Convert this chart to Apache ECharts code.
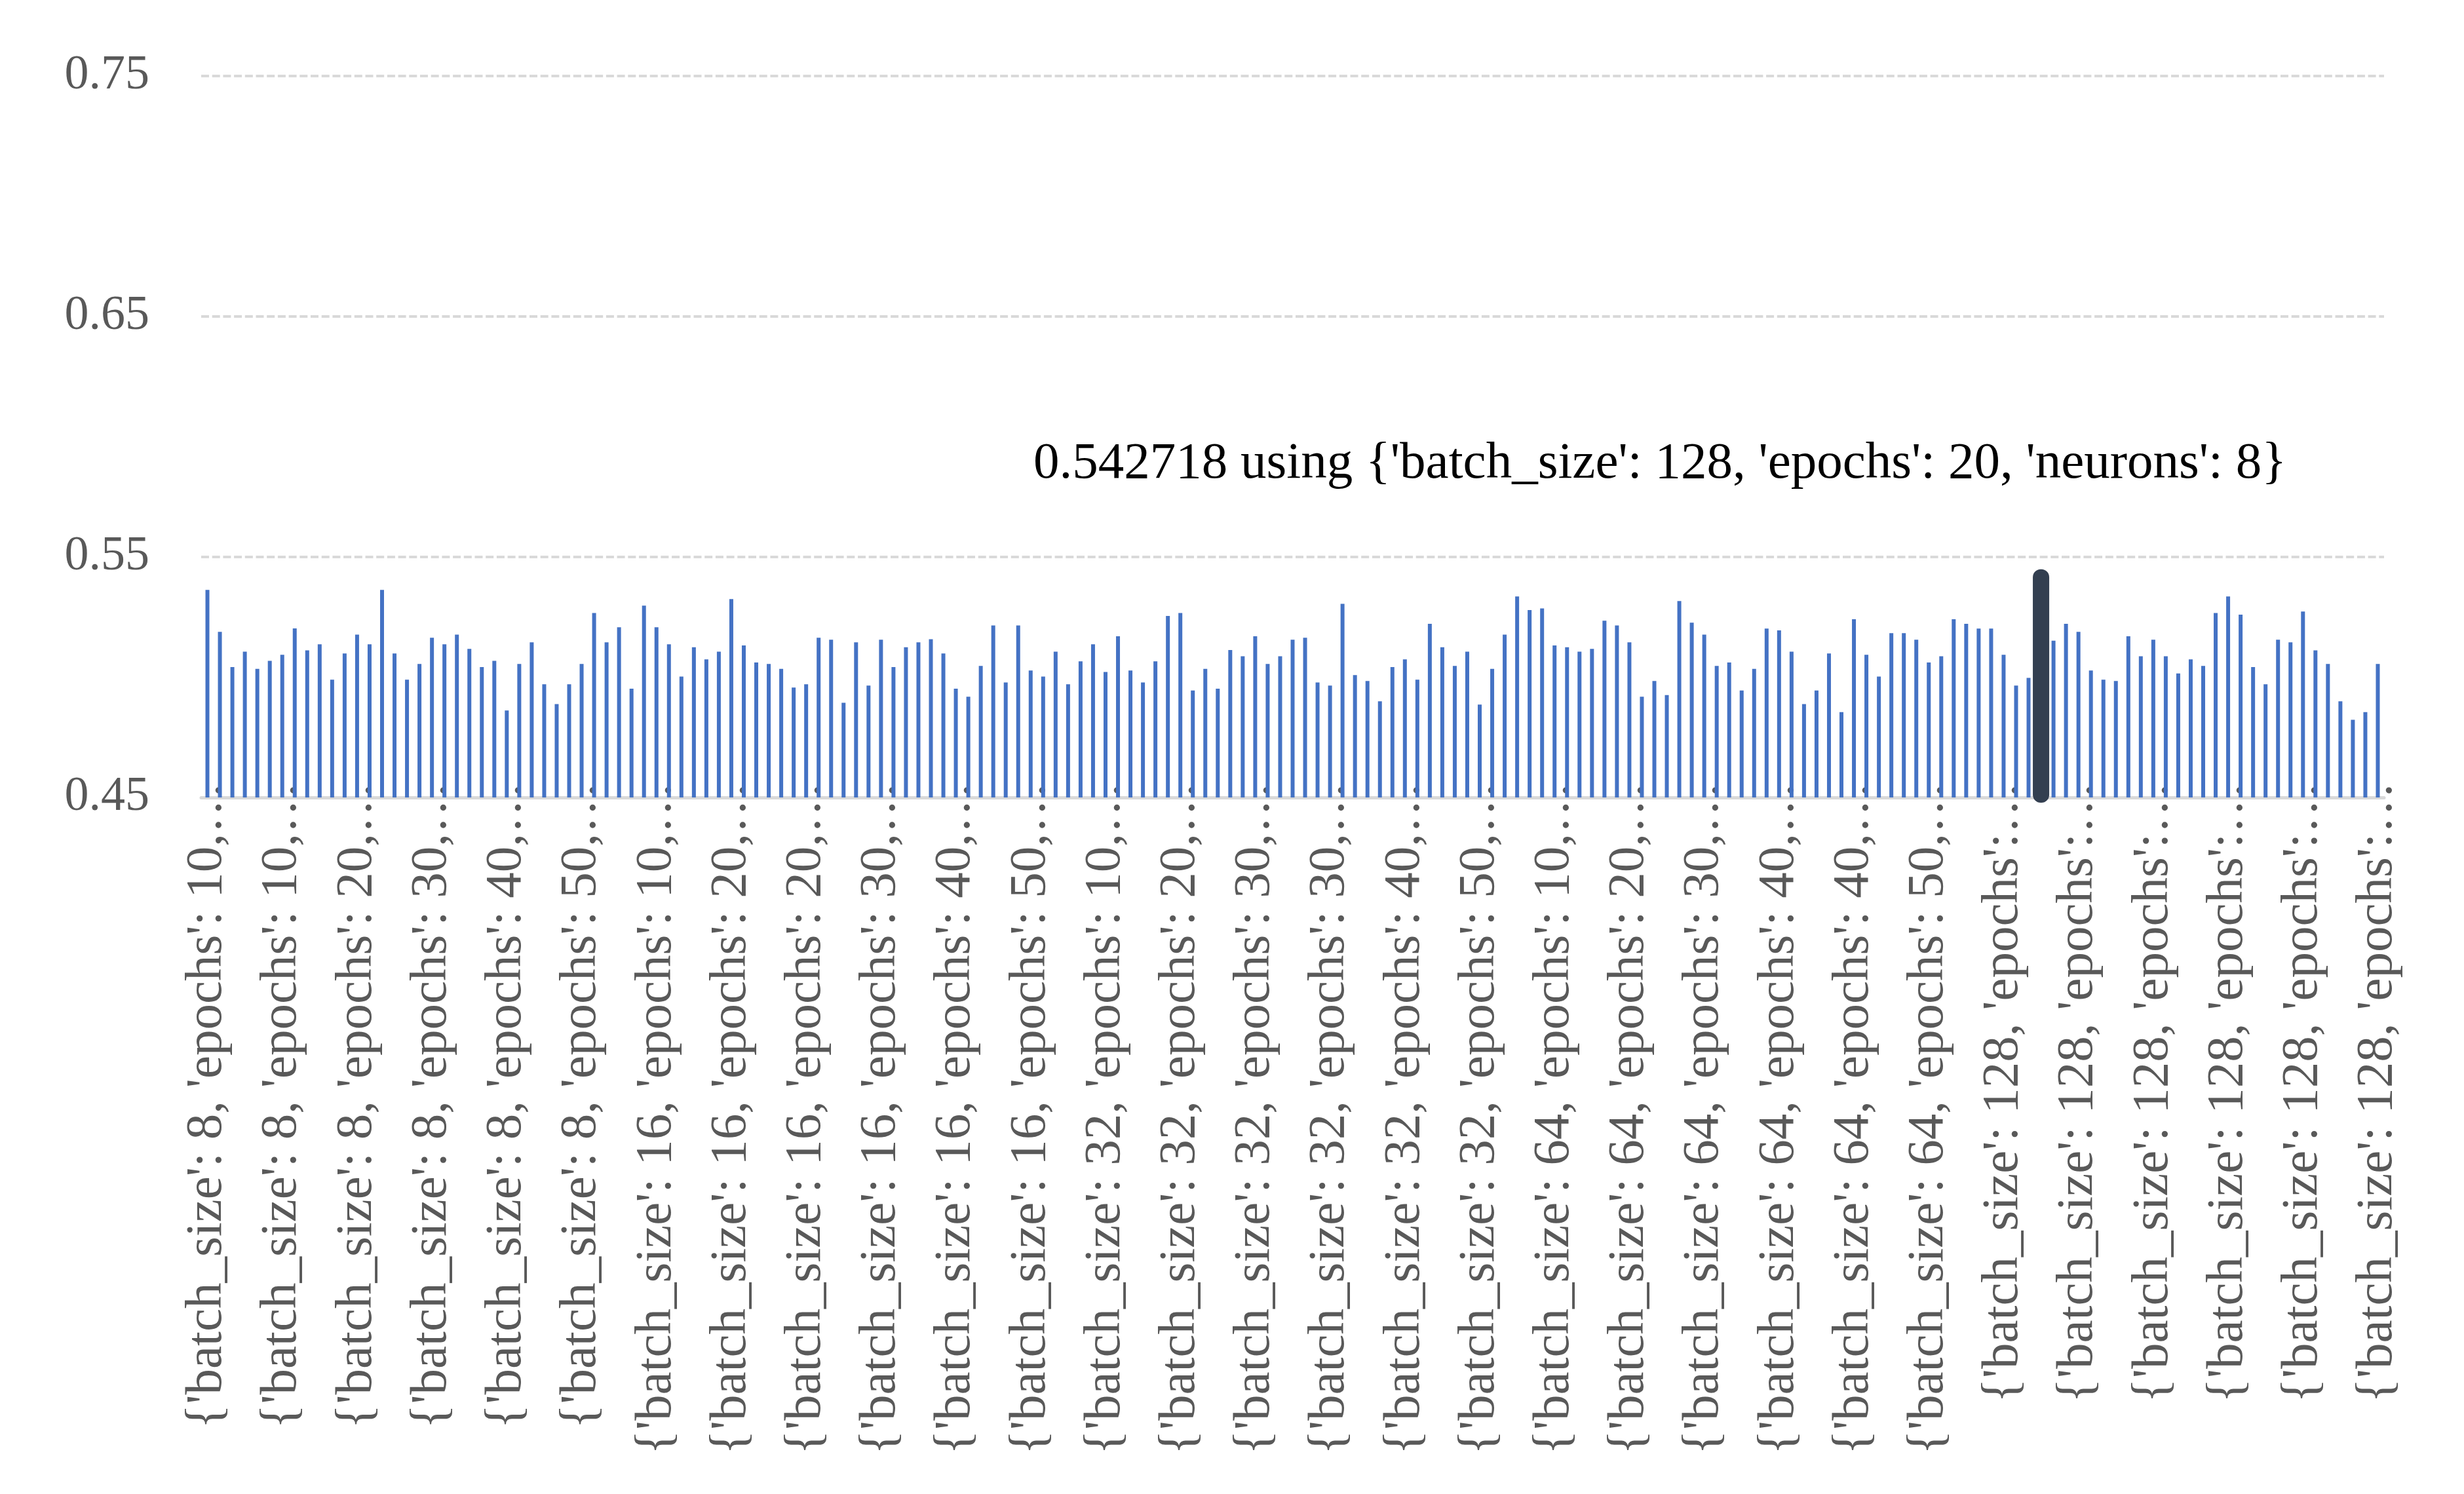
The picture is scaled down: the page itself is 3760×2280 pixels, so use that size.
<!DOCTYPE html>
<html>
<head>
<meta charset="utf-8">
<script src="https://cdn.jsdelivr.net/npm/echarts@6/dist/echarts.min.js"></script>
<style>
html,body{margin:0;padding:0;background:#fff;}
#c{width:3760px;height:2280px;}
</style>
</head>
<body>
<div id="c"></div>
<script>
const batchSizes = [8, 16, 32, 64, 128];
const epochsList = [10, 20, 30, 40, 50];
const neuronsList = [8, 16, 32, 64, 128, 256, 512];
const yTicks = [0.45, 0.55, 0.65, 0.75];

const scores = [
  0.5363, 0.5189, 0.5042, 0.5106, 0.5035, 0.5068, 0.5093,
  0.5203, 0.5112, 0.5137, 0.4990, 0.5099, 0.5177, 0.5137,
  0.5363, 0.5099, 0.4990, 0.5055, 0.5164, 0.5137, 0.5177,
  0.5118, 0.5042, 0.5068, 0.4862, 0.5055, 0.5145, 0.4971,
  0.4888, 0.4971, 0.5055, 0.5267, 0.5145, 0.5208, 0.4952,
  0.5298, 0.5208, 0.5137, 0.5003, 0.5125, 0.5074, 0.5106,
  0.5325, 0.5132, 0.5061, 0.5055, 0.5035, 0.4957, 0.4971,
  0.5164, 0.5156, 0.4894, 0.5145, 0.4965, 0.5156, 0.5042,
  0.5125, 0.5145, 0.5158, 0.5099, 0.4952, 0.4919, 0.5047,
  0.5215, 0.4978, 0.5215, 0.5028, 0.5003, 0.5106, 0.4971,
  0.5066, 0.5137, 0.5022, 0.5170, 0.5028, 0.4978, 0.5066,
  0.5255, 0.5267, 0.4945, 0.5035, 0.4952, 0.5113, 0.5087,
  0.5170, 0.5055, 0.5087, 0.5156, 0.5164, 0.4978, 0.4965,
  0.5305, 0.5009, 0.4984, 0.4900, 0.5042, 0.5074, 0.4990,
  0.5222, 0.5125, 0.5047, 0.5106, 0.4886, 0.5035, 0.5177,
  0.5336, 0.5279, 0.5286, 0.5132, 0.5125, 0.5106, 0.5118,
  0.5235, 0.5215, 0.5145, 0.4919, 0.4984, 0.4926, 0.5317,
  0.5227, 0.5177, 0.5047, 0.5061, 0.4945, 0.5035, 0.5202,
  0.5195, 0.5106, 0.4888, 0.4945, 0.5099, 0.4855, 0.5241,
  0.5093, 0.5003, 0.5183, 0.5183, 0.5156, 0.5061, 0.5087,
  0.5241, 0.5222, 0.5202, 0.5202, 0.5093, 0.4965, 0.4997,
  0.542718, 0.5152, 0.5222, 0.5189, 0.5028, 0.4990, 0.4984,
  0.5170, 0.5087, 0.5156, 0.5087, 0.5016, 0.5074, 0.5047,
  0.5267, 0.5336, 0.5260, 0.5042, 0.4971, 0.5156, 0.5145,
  0.5273, 0.5112, 0.5055, 0.4900, 0.4823, 0.4855, 0.5055
];

const categories = [];
batchSizes.forEach(b => epochsList.forEach(e => neuronsList.forEach(n => {
  categories.push("{'batch_size': " + b + ", 'epochs': " + e + ", 'neurons': " + n + "}");
})));

let bestIdx = 0;
scores.forEach((v, i) => { if (v > scores[bestIdx]) bestIdx = i; });
const bestText = scores[bestIdx].toFixed(6) + ' using ' + categories[bestIdx];

const FONT = "'Liberation Serif', 'DejaVu Serif', serif";
const LABEL_SIZE = 79;
const LABEL_WIDTH = 13.25 * LABEL_SIZE;

const measureCtx = document.createElement('canvas').getContext('2d');
measureCtx.font = LABEL_SIZE + 'px ' + FONT;
function fitLabel(text) {
  if (measureCtx.measureText(text).width <= LABEL_WIDTH) return text;
  const tokens = text.split(' ');
  let out = '';
  for (const t of tokens) {
    const cand = out ? out + ' ' + t : t;
    if (measureCtx.measureText(cand + '\u2026').width > LABEL_WIDTH) break;
    out = cand;
  }
  return out + '\u2026';
}

const chart = echarts.init(document.getElementById('c'), null, { renderer: 'canvas' });
chart.setOption({
  animation: false,
  backgroundColor: '#ffffff',
  title: {
    text: bestText,
    left: 1572,
    top: 664,
    textStyle: { fontFamily: FONT, fontSize: 79, fontWeight: 'normal', color: '#000000' }
  },
  grid: { left: 307, right: 122, top: 116, bottom: 1063, containLabel: false, outerBoundsMode: 'none' },
  xAxis: {
    type: 'category',
    data: categories,
    boundaryGap: true,
    axisLine: { show: true, lineStyle: { color: '#d9d9d9', width: 5 } },
    axisTick: { show: false },
    splitLine: { show: false },
    axisLabel: {
      interval: 5,
      rotate: 90,
      margin: -24,
      color: '#595959',
      fontFamily: FONT,
      fontSize: LABEL_SIZE,
      formatter: v => fitLabel(v)
    }
  },
  yAxis: {
    type: 'value',
    min: yTicks[0],
    max: yTicks[yTicks.length - 1],
    interval: 0.1,
    axisLine: { show: false },
    axisTick: { show: false },
    splitLine: { show: true, lineStyle: { color: '#d9d9d9', width: 4, type: [12, 4.7] } },
    axisLabel: {
      margin: 79,
      color: '#595959',
      fontFamily: FONT,
      fontSize: 74,
      formatter: v => v.toFixed(2)
    }
  },
  series: [{
    type: 'bar',
    data: scores,
    barWidth: 6,
    itemStyle: { color: '#4472c4' }
  }, {
    type: 'custom',
    data: [[bestIdx, scores[bestIdx]]],
    clip: false,
    z: 5,
    renderItem: function (params, api) {
      const top = api.coord([api.value(0), api.value(1)]);
      const base = api.coord([api.value(0), yTicks[0]]);
      const w = 9;
      return {
        type: 'rect',
        shape: { x: top[0] - w / 2, y: top[1], width: w, height: base[1] - top[1], r: 4 },
        style: { fill: '#333f50', stroke: '#333f50', lineWidth: 16 }
      };
    }
  }]
});
</script>
</body>
</html>
